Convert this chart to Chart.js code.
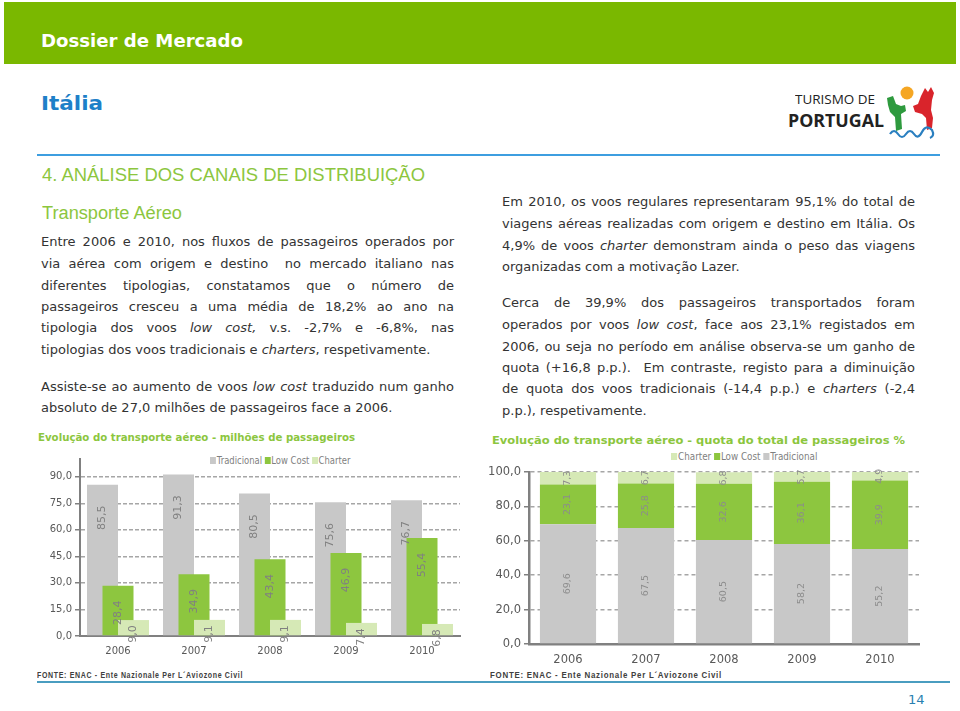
<!DOCTYPE html>
<html>
<head>
<meta charset="utf-8">
<script src="https://cdn.jsdelivr.net/npm/chart.js@4.4.1/dist/chart.umd.min.js"></script>
<style>
  body { margin: 0; width: 960px; height: 711px; position: relative; background: #fff; overflow: hidden;
         font-family: "DejaVu Sans", Verdana, sans-serif; color: #333; }
  .abs { position: absolute; white-space: nowrap; }
  .fit { transform-origin: 0 50%; display: inline-block; }
  #band { left: 4px; top: 2px; width: 952px; height: 62px; background: #7ab800; }
  #dossier { left: 41px; top: 30px; font: bold 17px "DejaVu Sans Condensed", "DejaVu Sans", sans-serif; color: #fff; line-height: 22px; }
  #italia { left: 41px; top: 91px; font: bold 19px "DejaVu Sans Condensed", "DejaVu Sans", sans-serif; color: #1e80c8; line-height: 24px; }
  #topline { left: 37px; top: 154px; width: 903px; height: 2px; background: #3d9ee0; }
  #botline { left: 37px; top: 681px; width: 913px; height: 2px; background: #4a9dc0; }
  .h1 { font: 18px "Liberation Sans", Arial, sans-serif; color: #8cc63e; line-height: 22px; }
  .line { font-size: 13px; line-height: 20px; height: 20px; color: #333; }
  .jl { text-align: justify; text-align-last: justify; }
  .ctitle { font: bold 11px "DejaVu Sans Condensed", "DejaVu Sans", sans-serif; color: #8cc63e; line-height: 16px; }
  .fonte { font: bold 8.5px "Liberation Sans", Arial, sans-serif; letter-spacing: 0.8px; color: #404040; line-height: 10px; }
  .legend { font-size: 10px; color: #7f7f7f; line-height: 12px; }
  .legend i { display: inline-block; width: 7px; height: 7px; margin-right: 1px; vertical-align: 0px; }
  .legend span { margin-right: 3px; }
  #logo1 { left: 795px; top: 92px; font: 12px "Open Sans", sans-serif; color: #222; line-height: 16px; }
  #logo2 { left: 788px; top: 110px; font: bold 17px "Open Sans", sans-serif; color: #222; line-height: 22px; }
  #page { left: 908px; top: 692px; font-size: 13px; color: #2a7fb0; line-height: 16px; }
</style>
</head>
<body>
<div id="band" class="abs"></div>
<div id="dossier" class="abs"><span class="fit" data-w="202">Dossier de Mercado</span></div>
<div id="italia" class="abs"><span class="fit" data-w="62">Itália</span></div>
<div id="logo1" class="abs"><span class="fit" data-w="80">TURISMO DE</span></div>
<div id="logo2" class="abs"><span class="fit" data-w="96">PORTUGAL</span></div>
<svg class="abs" style="left:884px;top:84px" width="60" height="56" viewBox="0 0 60 56">
  <circle cx="23" cy="9" r="6.5" fill="#f5a623"/>
  <path d="M3 14 L9 12 L12 20 L17 22 L21 21 L22 27 L17 30 L18 45 L12 47 L11 33 L6 28 L4 21 Z" fill="#2e9a3e"/>
  <path d="M29 22 L34 20 L37 12 L41 4 L44 8 L47 3 L50 9 L48 16 L47 26 L49 34 L48 44 L43 46 L42 34 L38 30 L31 28 Z" fill="#d9242b"/>
  <path d="M6 50 q4 -6 8 0 q4 6 8 0 q4 -6 8 0 q4 6 8 -2 q4 -8 10 -2 q3 6 -2 8" fill="none" stroke="#2a7fc0" stroke-width="2.2"/>
</svg>
<div id="topline" class="abs"></div>

<div class="abs h1" style="left:42px;top:164px"><span class="fit" data-w="383">4. ANÁLISE DOS CANAIS DE DISTRIBUIÇÃO</span></div>
<div class="abs h1" style="left:42px;top:202px"><span class="fit" data-w="140">Transporte Aéreo</span></div>

<div class="abs line jl" data-w="413" style="left:41px;top:232px">Entre 2006 e 2010, nos fluxos de passageiros operados por</div>
<div class="abs line jl" data-w="413" style="left:41px;top:254px">via aérea com origem e destino &nbsp;no mercado italiano nas</div>
<div class="abs line jl" data-w="413" style="left:41px;top:276px">diferentes tipologias, constatamos que o número de</div>
<div class="abs line jl" data-w="413" style="left:41px;top:297px">passageiros cresceu a uma média de 18,2% ao ano na</div>
<div class="abs line jl" data-w="413" style="left:41px;top:318px">tipologia dos voos <i>low cost,</i> v.s. -2,7% e -6,8%, nas</div>
<div class="abs line" style="left:41px;top:340px">tipologias dos voos tradicionais e <i>charters</i>, respetivamente.</div>
<div class="abs line jl" data-w="413" style="left:41px;top:377px">Assiste-se ao aumento de voos <i>low cost</i> traduzido num ganho</div>
<div class="abs line" style="left:41px;top:398px">absoluto de 27,0 milhões de passageiros face a 2006.</div>

<div class="abs line jl" data-w="413" style="left:502px;top:192px">Em 2010, os voos regulares representaram 95,1% do total de</div>
<div class="abs line jl" data-w="413" style="left:502px;top:214px">viagens aéreas realizadas com origem e destino em Itália. Os</div>
<div class="abs line jl" data-w="413" style="left:502px;top:236px">4,9% de voos <i>charter</i> demonstram ainda o peso das viagens</div>
<div class="abs line" style="left:502px;top:257px">organizadas com a motivação Lazer.</div>
<div class="abs line jl" data-w="413" style="left:502px;top:293px">Cerca de 39,9% dos passageiros transportados foram</div>
<div class="abs line jl" data-w="413" style="left:502px;top:315px">operados por voos <i>low cost</i>, face aos 23,1% registados em</div>
<div class="abs line jl" data-w="413" style="left:502px;top:337px">2006, ou seja no período em análise observa-se um ganho de</div>
<div class="abs line jl" data-w="413" style="left:502px;top:358px">quota (+16,8 p.p.). &nbsp;Em contraste, registo para a diminuição</div>
<div class="abs line jl" data-w="413" style="left:502px;top:379px">de quota dos voos tradicionais (-14,4 p.p.) e <i>charters</i> (-2,4</div>
<div class="abs line" style="left:502px;top:401px">p.p.), respetivamente.</div>

<div class="abs ctitle" style="left:38px;top:430px"><span class="fit" data-w="317">Evolução do transporte aéreo - milhões de passageiros</span></div>
<div class="abs ctitle" style="left:492px;top:433px"><span class="fit" data-w="413">Evolução do transporte aéreo - quota do total de passageiros %</span></div>

<div class="abs legend" style="left:210px;top:455px"><span id="legendL" class="fit" data-w="143"></span></div>
<div class="abs legend" style="left:671px;top:451px"><span id="legendR" class="fit" data-w="149"></span></div>

<canvas id="chartL" class="abs" width="440" height="215" style="left:30px;top:445px"></canvas>
<canvas id="chartR" class="abs" width="445" height="208" style="left:480px;top:462px"></canvas>

<div class="abs fonte" style="left:37px;top:670px"><span class="fit" data-w="206">FONTE: ENAC - Ente Nazionale Per L´Aviozone Civil</span></div>
<div class="abs fonte" style="left:490px;top:670px"><span class="fit" data-w="232">FONTE: ENAC - Ente Nazionale Per L´Aviozone Civil</span></div>
<div id="botline" class="abs"></div>
<div id="page" class="abs">14</div>

<script>
  const years = ['2006', '2007', '2008', '2009', '2010'];

  // milhões de passageiros
  const tradicional = [85.5, 91.3, 80.5, 75.6, 76.7];
  const lowCost = [28.4, 34.9, 43.4, 46.9, 55.4];
  const charter = [9.0, 9.1, 9.1, 7.4, 6.8];

  // quota do total (%)
  const quotaTradicional = [69.6, 67.5, 60.5, 58.2, 55.2];
  const quotaLowCost = [23.1, 25.8, 32.6, 36.1, 39.9];
  const quotaCharter = [7.3, 6.7, 6.8, 5.7, 4.9];

  const leftTicks = [0, 15, 30, 45, 60, 75, 90];
  const rightTicks = [0, 20, 40, 60, 80, 100];

  const grey = '#c8c8c8';
  const green = '#8dc63f';
  const lightGreen = '#d6e9b6';
  const gridColor = '#a6a6a6';
  const axisColor = '#808080';

  function legendHtml(names, colors) {
    return names.map((n, i) => '<span><i style="background:' + colors[i] + '"></i>' + n + '</span>').join('');
  }
  document.getElementById('legendL').innerHTML = legendHtml(['Tradicional', 'Low Cost', 'Charter'], [grey, green, lightGreen]);
  document.getElementById('legendR').innerHTML = legendHtml(['Charter', 'Low Cost', 'Tradicional'], [lightGreen, green, grey]);

  // text fitting
  document.querySelectorAll('.fit').forEach(el => {
    const w = el.getBoundingClientRect().width;
    el.style.transform = 'scaleX(' + (Number(el.dataset.w) / w) + ')';
  });
  document.querySelectorAll('.jl').forEach(el => {
    el.style.display = 'inline-block';
    const natural = el.getBoundingClientRect().width;
    const target = Number(el.dataset.w);
    el.style.display = 'block';
    el.style.width = target + 'px';
    if (natural > target) {
      const spaces = (el.textContent.match(/ /g) || []).length;
      el.style.wordSpacing = ((target - natural) / spaces) + 'px';
    }
  });

  function fmt(v) {
    return Number(v).toFixed(1).replace('.', ',');
  }

  // overlapping bars: paint dataset 0 first so later series sit on top
  const drawInOrder = {
    id: 'drawInOrder',
    beforeDatasetDraw() { return false; },
    afterDatasetsDraw(chart) {
      for (let i = 0; i < chart.data.datasets.length; i++) {
        chart.getDatasetMeta(i).controller.draw();
      }
    }
  };

  // rotated value labels on the bars
  const barLabels = {
    id: 'barLabels',
    afterDatasetsDraw(chart, args, opts) {
      const ctx = chart.ctx;
      ctx.save();
      ctx.font = opts.font;
      ctx.fillStyle = opts.color;
      ctx.textAlign = 'center';
      ctx.textBaseline = 'middle';
      chart.data.datasets.forEach((ds, i) => {
        chart.getDatasetMeta(i).data.forEach((bar, j) => {
          const y = opts.centered ? (bar.y + bar.base) / 2 : bar.y + opts.offsets[i];
          ctx.save();
          ctx.translate(bar.x, y);
          ctx.rotate(-Math.PI / 2);
          ctx.fillText(fmt(ds.data[j]), 0, 0);
          ctx.restore();
        });
      });
      ctx.restore();
    }
  };

  Chart.defaults.font.family = '"DejaVu Sans", Verdana, sans-serif';
  Chart.defaults.color = '#595959';

  new Chart(document.getElementById('chartL'), {
    type: 'bar',
    data: {
      labels: years,
      datasets: [
        { label: 'Tradicional', data: tradicional, backgroundColor: grey },
        { label: 'Low Cost', data: lowCost, backgroundColor: green },
        { label: 'Charter', data: charter, backgroundColor: lightGreen }
      ]
    },
    options: {
      responsive: false,
      animation: false,
      devicePixelRatio: 1,
      categoryPercentage: 0.612,
      barPercentage: 2,
      layout: { padding: { top: 14, right: 10, left: 0, bottom: 0 } },
      plugins: {
        legend: { display: false },
        tooltip: { enabled: false },
        barLabels: { font: '11px "DejaVu Sans"', color: '#808080', offsets: [33, 27, 14] }
      },
      scales: {
        x: {
          grid: { display: false, drawTicks: false },
          border: { color: axisColor, width: 2 },
          ticks: { font: { size: 10 }, padding: 9 },
          afterFit(s) { s.height = 24; }
        },
        y: {
          min: 0,
          max: 100,
          afterBuildTicks(s) { s.ticks = leftTicks.map(v => ({ value: v })); },
          grid: { color: gridColor, lineWidth: 1.5, tickLength: 5, tickColor: axisColor },
          border: { color: axisColor, width: 2, dash: [4, 2] },
          ticks: { font: { size: 10 }, padding: 3, callback: v => fmt(v) },
          afterFit(s) { s.width = 50; }
        }
      }
    },
    plugins: [drawInOrder, barLabels]
  });

  new Chart(document.getElementById('chartR'), {
    type: 'bar',
    data: {
      labels: years,
      datasets: [
        { label: 'Tradicional', data: quotaTradicional, backgroundColor: grey },
        { label: 'Low Cost', data: quotaLowCost, backgroundColor: green },
        { label: 'Charter', data: quotaCharter, backgroundColor: lightGreen }
      ]
    },
    options: {
      responsive: false,
      animation: false,
      devicePixelRatio: 1,
      categoryPercentage: 1,
      barPercentage: 0.72,
      layout: { padding: { top: 10, right: 6, left: 0, bottom: 0 } },
      plugins: {
        legend: { display: false },
        tooltip: { enabled: false },
        barLabels: { font: '9.5px "DejaVu Sans"', color: '#8c8c8c', centered: true }
      },
      scales: {
        x: {
          stacked: true,
          grid: { display: false, drawTicks: false },
          border: { color: axisColor, width: 2.5 },
          ticks: { font: { size: 11.5 }, padding: 9 },
          afterFit(s) { s.height = 26; }
        },
        y: {
          stacked: true,
          min: 0,
          max: 100,
          afterBuildTicks(s) { s.ticks = rightTicks.map(v => ({ value: v })); },
          grid: { color: gridColor, lineWidth: 1.5, tickLength: 5, tickColor: axisColor },
          border: { color: axisColor, width: 2.5, dash: [4, 3] },
          ticks: { font: { size: 11.5 }, padding: 3, callback: v => fmt(v) },
          afterFit(s) { s.width = 49; }
        }
      }
    },
    plugins: [barLabels]
  });
</script>
</body>
</html>
